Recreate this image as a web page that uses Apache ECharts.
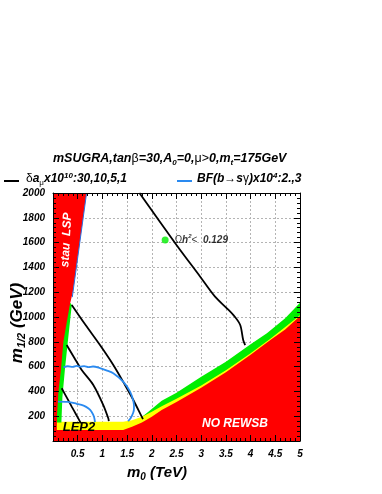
<!DOCTYPE html>
<html><head><meta charset="utf-8">
<script src="https://cdn.jsdelivr.net/npm/echarts@6/dist/echarts.min.js"></script>
<style>html,body{margin:0;padding:0;background:#fff}#c{width:382px;height:494px}</style>
</head><body><div id="c"></div>
<script>
const FONT = '"Liberation Sans", Arial, Helvetica, sans-serif';

// axis ranges and tick labels
const m0Range = [0, 5];           // TeV
const m12Range = [0, 2000];       // GeV
const xTickLabels = ['', '0.5', '1', '1.5', '2', '2.5', '3', '3.5', '4', '4.5', '5'];
const yTickLabels = ['', '200', '400', '600', '800', '1000', '1200', '1400', '1600', '1800', '2000'];

// excluded / allowed regions [m0 (TeV), m1/2 (GeV)]
const stauGreen = [[0,150],[0,1110],[0.36,1110],[0.38,1097],[0.30,800],[0.24,573],[0.19,350],[0.17,150]];
const stauRed = [[0,0],[0,2000],[0.68,2000],[0.41,1218],[0.34,1097],[0.21,800],[0.16,573],[0.11,400],[0.08,200],[0.075,0]];
const rewsbGreen = [[1.6,0],[1.6,150],[1.72,172],[1.9,225],[2.2,325],[2.5,390],[3.0,518],[3.5,640],[4.0,780],[4.33,868],[4.7,990],[5.0,1115],[5,0]];
const lepYellow = [[0,0],[0,156],[1.42,156],[1.6,168],[1.8,195],[2.0,235],[2.2,280],[2.5,340],[3.0,448],[3.5,570],[4.0,707],[4.4,825],[5.0,1015],[5,0]];
const rewsbRed = [[0,0],[0,89],[1.42,89],[1.6,115],[1.8,150],[2.0,196],[2.2,250],[2.5,315],[3.0,430],[3.5,555],[4.0,695],[4.4,815],[4.7,900],[5.0,1008],[5,0]];

// delta a_mu x 10^10 contours: 30, 10, 5, 1
const amu30 = [[0.176,425],[0.28,350],[0.379,277],[0.47,212],[0.547,156],[0.565,143]];
const amu10 = [[0.277,774],[0.43,672],[0.581,573],[0.816,452],[1.018,290],[1.119,183],[1.13,160]];
const amu5 = [[0.379,1097],[0.66,935],[0.951,774],[1.221,613],[1.457,452],[1.626,331],[1.796,196],[1.82,177]];
const amu1 = [[1.75,2000],[2.50,1581],[2.98,1325],[3.28,1164],[3.52,1070],[3.68,1002],[3.79,935],[3.85,815],[3.89,774]];

// BF(b->s gamma) x 10^4 contours
const bsg2 = [[0.21,594],[0.3,603],[0.4,597],[0.48,606],[0.55,599],[0.63,604],[0.72,596],[0.81,601],[0.95,588],[1.08,570],[1.22,546],[1.42,478],[1.56,398],[1.63,317],[1.64,265],[1.625,230],[1.57,183],[1.52,161]];
const bsg3 = [[0.1,318],[0.3,316],[0.48,300],[0.62,285],[0.72,262],[0.78,236],[0.83,195],[0.85,152]];
const bsgEdge = [[0.39,1160],[0.68,2000]];

// relic density legend marker
const omegaPoint = [[2.27,1621]];

const chart = echarts.init(document.getElementById('c'), null, {renderer:'canvas'});

function polySeries(pts, color, z) {
  return {
    type:'custom', xAxisIndex:0, yAxisIndex:0, z:z, silent:true, animation:false,
    data:[pts[0]],
    renderItem:function(params, api){
      return {type:'polygon', shape:{points:pts.map(function(p){return api.coord(p);})},
              style:{fill:color, stroke:null}};
    }
  };
}
function lineSeries(pts, color, width, smooth) {
  return {type:'line', xAxisIndex:0, yAxisIndex:0, z:3, data:pts, showSymbol:false, symbol:'none',
          smooth:smooth, silent:true, animation:false, lineStyle:{color:color, width:width}};
}

const tickStyle = {color:'#000', width:1};
const lab = {fontFamily:FONT, fontWeight:'bold', fontStyle:'italic', fontSize:10, color:'#000'};

function frameAxis(pos, isX) {
  const a = {type:'value', position:pos, z:10,
    axisLine:{show:true, onZero:false, lineStyle:tickStyle},
    axisTick:{show:true, inside:true, length:6, lineStyle:tickStyle},
    minorTick:{show:true, splitNumber:5, length:3, lineStyle:tickStyle},
    axisLabel:{show:false}, splitLine:{show:false}};
  if (isX) { a.min = m0Range[0]; a.max = m0Range[1]; a.interval = 0.5; }
  else { a.min = m12Range[0]; a.max = m12Range[1]; a.interval = 200; }
  return a;
}

function richSet(size) {
  const sub = Math.round(size * 0.67);
  return {
    b:{fontFamily:FONT, fontWeight:'bold', fontStyle:'italic', fontSize:size, color:'#000', lineHeight:15},
    g:{fontFamily:FONT, fontWeight:'normal', fontSize:size, color:'#000', lineHeight:15},
    s:{fontFamily:FONT, fontWeight:'bold', fontStyle:'italic', fontSize:sub, color:'#000', lineHeight:5, verticalAlign:'bottom'},
    sg:{fontFamily:FONT, fontWeight:'normal', fontSize:sub, color:'#000', lineHeight:5, verticalAlign:'bottom'},
    p:{fontFamily:FONT, fontWeight:'bold', fontStyle:'italic', fontSize:sub, color:'#000', lineHeight:5, verticalAlign:'top'}
  };
}
const rtTitle = richSet(12.5);
const rt = richSet(12);

chart.setOption({
  backgroundColor:'#fff',
  animation:false,
  grid:{left:53, right:82, top:193, bottom:53, containLabel:false, outerBoundsMode:'none'},
  xAxis:[
    {type:'value', min:m0Range[0], max:m0Range[1], interval:0.5, position:'bottom', z:0,
     axisLine:{show:false, onZero:false}, axisTick:{show:false},
     splitLine:{show:true, lineStyle:{color:'#b4b4b4', type:[2,2], width:1}},
     axisLabel:Object.assign({margin:8, formatter:function(v){return xTickLabels[Math.round(v/0.5)] || '';}}, lab)},
    frameAxis('bottom', true),
    frameAxis('top', true)
  ],
  yAxis:[
    {type:'value', min:m12Range[0], max:m12Range[1], interval:200, position:'left', z:0,
     axisLine:{show:false, onZero:false}, axisTick:{show:false},
     splitLine:{show:true, lineStyle:{color:'#b4b4b4', type:[2,2], width:1}},
     axisLabel:Object.assign({margin:8, formatter:function(v){return yTickLabels[Math.round(v/200)] || '';}}, lab)},
    frameAxis('left', false),
    frameAxis('right', false)
  ],
  series:[
    polySeries(rewsbGreen, '#00ee00', 1),
    polySeries(lepYellow, '#ffff00', 1),
    polySeries(rewsbRed, '#ff0000', 1),
    polySeries(stauGreen, '#00ee00', 1),
    polySeries(stauRed, '#ff0000', 1),
    lineSeries(amu30, '#000', 1.8, 0.3),
    lineSeries(amu10, '#000', 1.8, 0.3),
    lineSeries(amu5, '#000', 1.8, 0.3),
    lineSeries(amu1, '#000', 1.8, 0.3),
    lineSeries(bsg2, '#2a8af0', 1.8, 0.3),
    lineSeries(bsg3, '#2a8af0', 1.8, 0.3),
    lineSeries(bsgEdge, '#2a6fe0', 1, false),
    {type:'scatter', xAxisIndex:0, yAxisIndex:0, z:4, data:omegaPoint, symbol:'circle', symbolSize:7,
     silent:true, animation:false, itemStyle:{color:'#00ee00'},
     label:{show:true, position:'right', distance:6,
       formatter:'{g|Ω}{b|h}{p|2}{g|<  }{b|0.129}',
       rich:{
         b:{fontFamily:FONT, fontWeight:'bold', fontStyle:'italic', fontSize:10, color:'#000', lineHeight:13},
         g:{fontFamily:FONT, fontWeight:'normal', fontSize:10, color:'#000', lineHeight:13},
         p:{fontFamily:FONT, fontWeight:'bold', fontStyle:'italic', fontSize:6, color:'#000', lineHeight:4, verticalAlign:'top'}
       }}}
  ],
  graphic:[
    {type:'text', x:53, y:159, z:20, style:{
      text:'{b|mSUGRA,tan}{g|β}{b|=30,A}{s|0}{b|=0,}{g|μ>}{b|0,m}{s|t}{b|=175GeV}',
      rich:rtTitle, verticalAlign:'middle', align:'left'}},
    {type:'line', z:20, shape:{x1:4, y1:181, x2:19, y2:181}, style:{stroke:'#000', lineWidth:2}},
    {type:'text', x:26, y:179, z:20, style:{
      text:'{g|δ}{b|a}{sg|μ}{b|x10}{p|10}{b|:30,10,5,1}',
      rich:rt, verticalAlign:'middle', align:'left'}},
    {type:'line', z:20, shape:{x1:177, y1:181, x2:192, y2:181}, style:{stroke:'#2a8af0', lineWidth:2}},
    {type:'text', x:197, y:179, z:20, style:{
      text:'{b|BF(b}{g|→}{b|s}{g|γ}{b|)x10}{p|4}{b|:2.,3}',
      rich:rt, verticalAlign:'middle', align:'left'}},
    {type:'text', x:157, y:473, z:20, style:{
      text:'{b|m}{s|0}{b| (TeV)}',
      rich:{
        b:{fontFamily:FONT, fontWeight:'bold', fontStyle:'italic', fontSize:15, color:'#000', lineHeight:18},
        s:{fontFamily:FONT, fontWeight:'bold', fontStyle:'italic', fontSize:10, color:'#000', lineHeight:6, verticalAlign:'bottom'}
      }, verticalAlign:'middle', align:'center'}},
    {type:'text', x:17, y:323, rotation:Math.PI/2, z:20, style:{
      text:'{b|m}{s|1/2}{b| (GeV)}',
      rich:{
        b:{fontFamily:FONT, fontWeight:'bold', fontStyle:'italic', fontSize:17, color:'#000', lineHeight:20},
        s:{fontFamily:FONT, fontWeight:'bold', fontStyle:'italic', fontSize:11, color:'#000', lineHeight:6, verticalAlign:'bottom'}
      }, verticalAlign:'middle', align:'center'}},
    {type:'text', x:66.5, y:240, rotation:1.517, z:20, style:{
      text:'stau  LSP', fill:'#fff', font:'italic bold 12px ' + FONT, verticalAlign:'middle', align:'center'}},
    {type:'text', x:79, y:427, z:20, style:{
      text:'LEP2', fill:'#000', font:'italic bold 13px ' + FONT, verticalAlign:'middle', align:'center'}},
    {type:'text', x:235, y:424, z:20, style:{
      text:'NO REWSB', fill:'#fff', font:'italic bold 12px ' + FONT, verticalAlign:'middle', align:'center'}}
  ]
});
</script>
</body></html>
